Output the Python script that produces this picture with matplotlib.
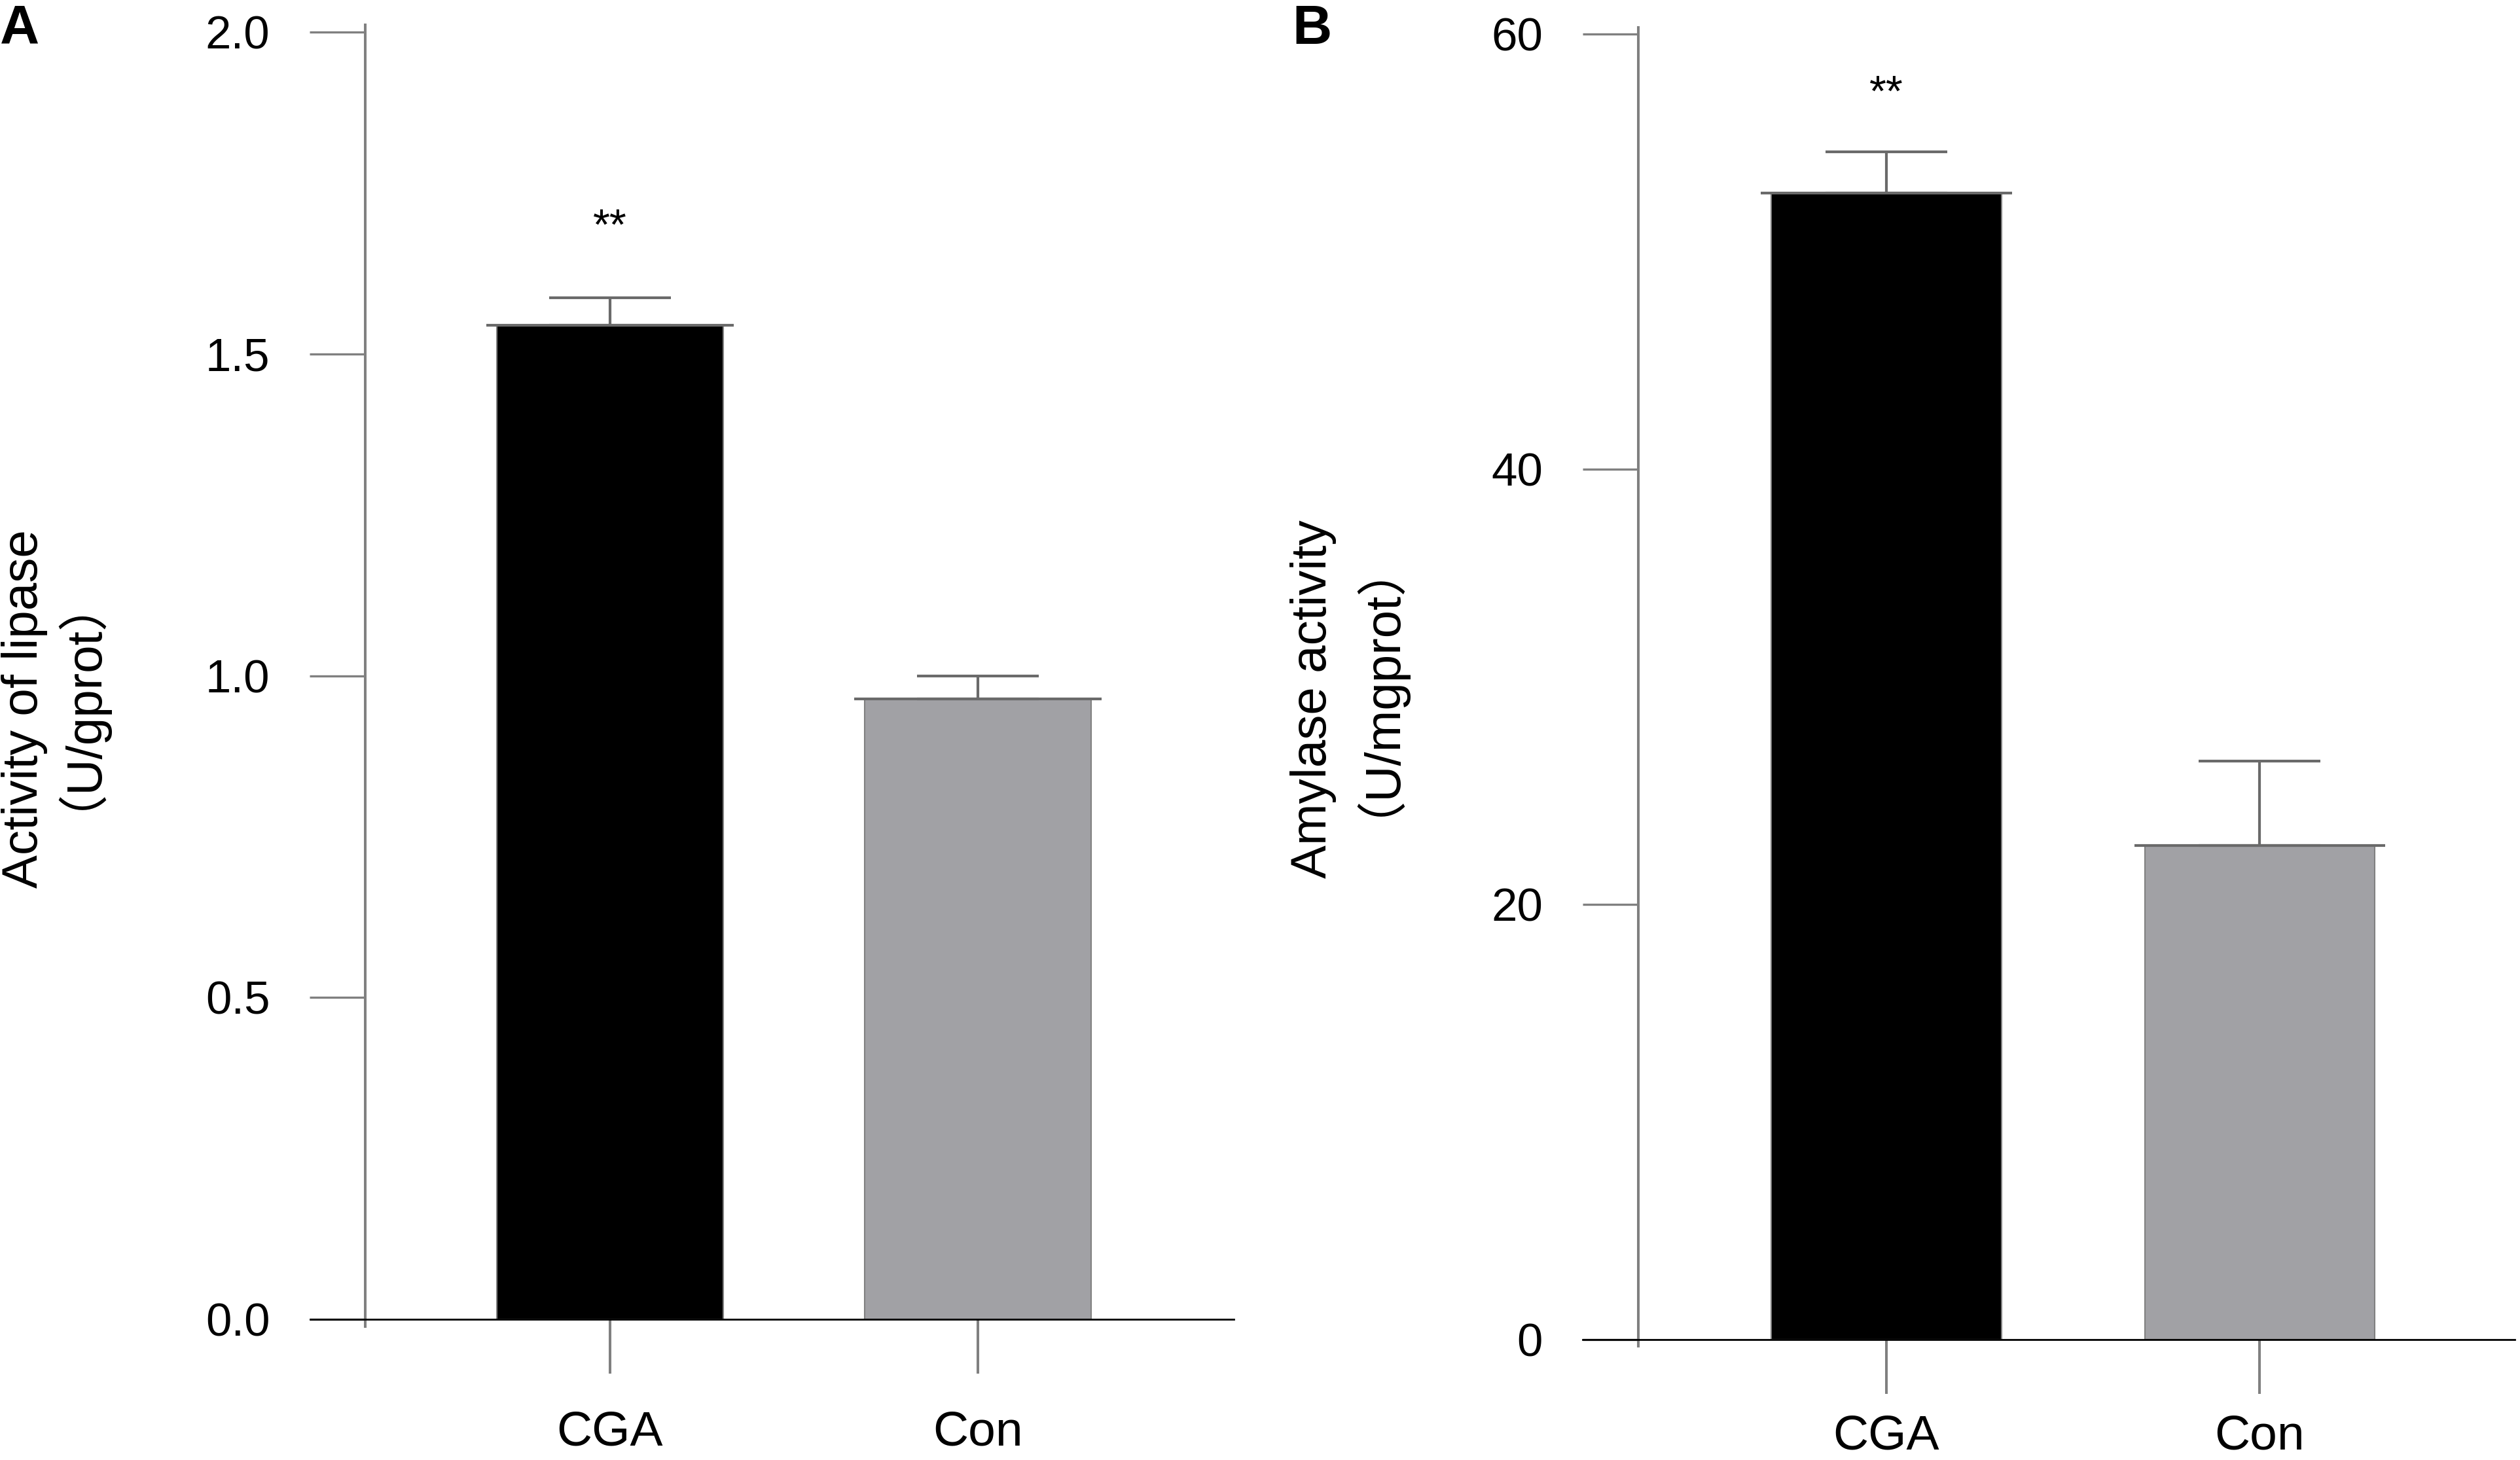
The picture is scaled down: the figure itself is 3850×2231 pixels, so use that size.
import matplotlib
matplotlib.use("Agg")
import matplotlib.pyplot as plt
import numpy as np

plt.rcParams['font.family'] = ['Liberation Sans', 'Noto Sans CJK SC', 'DejaVu Sans']

# data
groups = ['CGA', 'Con']
lipase_mean = [1.545, 0.964]
lipase_sem = [0.042, 0.036]
amylase_mean = [52.7, 22.7]
amylase_sem = [1.9, 3.9]
significance = ['**', '']
bar_colors = ['#000000', '#a1a1a5']

grey = '#808080'
W = 0.616

fig = plt.figure(figsize=(38.5, 22.31), dpi=100)

def panel(rect, means, sems, ymax, yticks, yticklabels, xlim, spine_ext, star_off,
          ylab, ylab_x, ylab_y, letter, letter_xy, xpad):
    ax = fig.add_axes(rect)
    # spine position first (it resets the tick settings)
    for s in ['top', 'right']:
        ax.spines[s].set_visible(False)
    ax.spines['left'].set_position(('data', -0.665))
    x = np.arange(len(groups))
    ax.bar(x, means, width=W, color=bar_colors, edgecolor=grey, linewidth=1.5, zorder=2)
    ax.errorbar(x, means, yerr=[np.zeros(len(x)), sems], fmt='none', ecolor='#6a6a6a',
                elinewidth=3, capsize=67, capthick=3, zorder=3)
    ax.hlines(means, x - W / 2 - 0.028, x + W / 2 + 0.028, color='#6a6a6a', linewidth=3, zorder=4)
    for xi, m, s, lab in zip(x, means, sems, significance):
        if lab:
            ax.text(xi, m + s + star_off, lab, ha='center', va='baseline', fontsize=48)
    ax.set_xlim(*xlim)
    ax.set_ylim(0, ymax)
    ax.set_xticks(x)
    ax.set_xticklabels(groups, fontsize=54)
    ax.set_yticks(yticks)
    ax.set_yticklabels(yticklabels, fontsize=51)
    ax.spines['left'].set_bounds(-spine_ext, ymax + spine_ext)
    ax.spines['left'].set_color(grey)
    ax.spines['left'].set_linewidth(2.9)
    ax.spines['bottom'].set_color('black')
    ax.spines['bottom'].set_linewidth(2.0)
    ax.tick_params(axis='y', length=61, width=2.4, color=grey, pad=44, labelsize=51)
    ax.tick_params(axis='x', length=60, width=2.9, color=grey, pad=xpad, labelsize=54)
    for line, lx, ly in zip(ylab, ylab_x, ylab_y):
        fig.text(lx / 3850, 1 - ly / 2231, line, rotation=90, ha='center', va='center',
                 fontsize=55)
    fig.text(letter_xy[0], letter_xy[1], letter, fontsize=60, fontweight='bold',
             ha='left', va='top')
    return ax

panel([0.1231, 0.0964, 0.3665, 0.8816], lipase_mean, lipase_sem, 2.0,
      [0.0, 0.5, 1.0, 1.5, 2.0], ['0.0', '0.5', '1.0', '1.5', '2.0'],
      (-0.815, 1.696), 0.011, 0.091,
      ['Activity of lipase', '（U/gprot）'], [38, 78], [1083, 1035],
      'A', (0 / 3850, 1 - 6 / 2231), 40)

panel([0.628, 0.0825, 0.370, 0.8942], amylase_mean, amylase_sem, 60,
      [0, 20, 40, 60], ['0', '20', '40', '60'],
      (-0.814, 1.684), 0.3, 2.1,
      ['Amylase activity', '（U/mgprot）'], [2006, 2062], [1068, 1014],
      'B', (1974 / 3850, 1 - 6 / 2231), 22)

fig.savefig('out.png', dpi=100)
